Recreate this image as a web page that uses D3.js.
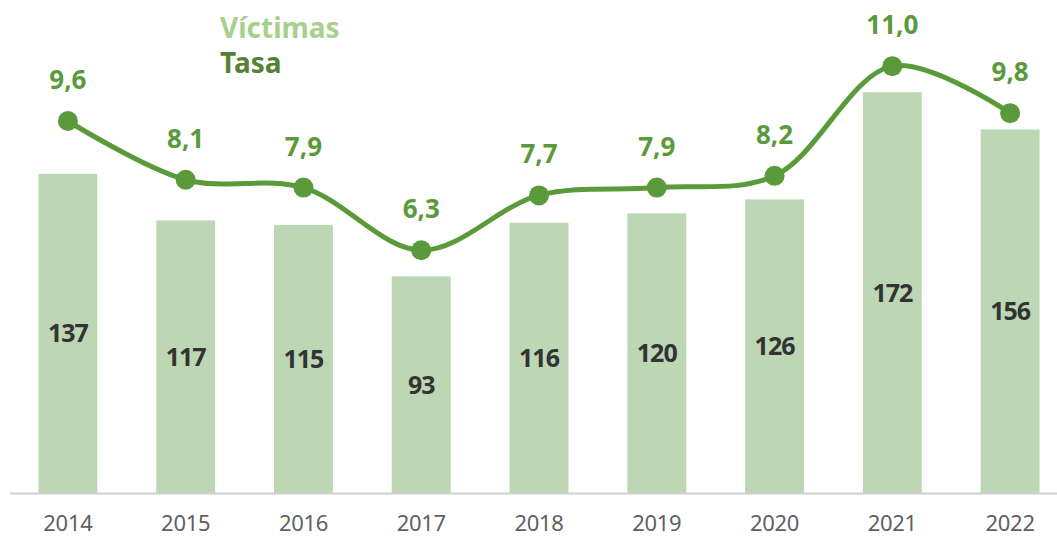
<!DOCTYPE html>
<html>
<head>
<meta charset="utf-8">
<script src="https://cdn.jsdelivr.net/npm/d3@7/dist/d3.min.js"></script>
<style>
  html, body { margin: 0; padding: 0; background: #fff; }
  svg { display: block; font-family: "Noto Sans", "Open Sans", sans-serif; }
</style>
</head>
<body>
<svg id="chart" width="1057" height="539"></svg>
<script>
// Víctimas (bars) and tasa (line) by year
const years = ["2014", "2015", "2016", "2017", "2018", "2019", "2020", "2021", "2022"];
const victimas = [137, 117, 115, 93, 116, 120, 126, 172, 156];
const tasa = [9.6, 8.1, 7.9, 6.3, 7.7, 7.9, 8.2, 11.0, 9.8];
const legendLabels = ["Víctimas", "Tasa"];

const colBar = "#bdd7b4";
const colLine = "#5b9a3b";
const colLegendLight = "#a8d08d";
const colLegendDark = "#548235";

const svg = d3.select("#chart");
const baseY = 493;

const x = d3.scaleBand().domain(years).range([9, 1069]).paddingInner(0.5).paddingOuter(0.25);
const yBar = d3.scaleLinear().domain([0, 200]).range([baseY, 27]);
const yLine = d3.scaleLinear().domain([0, 12]).range([497, 27]);

// bars
svg.append("g").selectAll("rect")
  .data(years)
  .join("rect")
  .attr("x", d => x(d))
  .attr("width", x.bandwidth())
  .attr("y", (d, i) => yBar(victimas[i]))
  .attr("height", (d, i) => baseY - yBar(victimas[i]))
  .attr("fill", colBar);

// bar value labels (centred in bar)
svg.append("g").selectAll("text")
  .data(years)
  .join("text")
  .attr("x", d => x(d) + x.bandwidth() / 2)
  .attr("y", (d, i) => (yBar(victimas[i]) + baseY) / 2)
  .attr("dy", "0.36em")
  .attr("text-anchor", "middle")
  .attr("font-size", 25)
  .attr("letter-spacing", "-1px")
  .attr("font-weight", "bold")
  .attr("fill", "#333")
  .text((d, i) => victimas[i]);

// x axis
const xAxis = d3.axisBottom(x).tickSize(0).tickPadding(22);
const gx = svg.append("g").attr("transform", `translate(0,${baseY})`).call(xAxis);
gx.select(".domain").remove();
gx.selectAll("text").attr("font-size", 22).attr("fill", "#5f5f5f")
  .attr("letter-spacing", "-0.3px")
  .attr("font-family", "'Noto Sans', sans-serif");
svg.append("line")
  .attr("x1", 10).attr("x2", 1057)
  .attr("y1", baseY + 0.5).attr("y2", baseY + 0.5)
  .attr("stroke", "#d0d0d0").attr("stroke-width", 2);

// tasa line
const pts = years.map((d, i) => [x(d) + x.bandwidth() / 2, yLine(tasa[i])]);
svg.append("path")
  .attr("d", d3.line().curve(d3.curveCatmullRom.alpha(0.5))(pts))
  .attr("fill", "none")
  .attr("stroke", colLine)
  .attr("stroke-width", 5);

svg.append("g").selectAll("circle")
  .data(pts)
  .join("circle")
  .attr("cx", d => d[0])
  .attr("cy", d => d[1])
  .attr("r", 10)
  .attr("fill", colLine);

const fmt = v => v.toFixed(1).replace(".", ",");
svg.append("g").selectAll("text")
  .data(pts)
  .join("text")
  .attr("x", d => d[0])
  .attr("y", d => d[1] - 32)
  .attr("text-anchor", "middle")
  .attr("font-size", 26)
  .attr("font-weight", "bold")
  .attr("fill", colLine)
  .text((d, i) => fmt(tasa[i]));

// legend
const legend = svg.append("g").attr("font-size", 28).attr("font-weight", "bold");
legend.append("text").attr("x", 220).attr("y", 38).attr("fill", colLegendLight).text(legendLabels[0]);
legend.append("text").attr("x", 220).attr("y", 73).attr("fill", colLegendDark).text(legendLabels[1]);
</script>
</body>
</html>
